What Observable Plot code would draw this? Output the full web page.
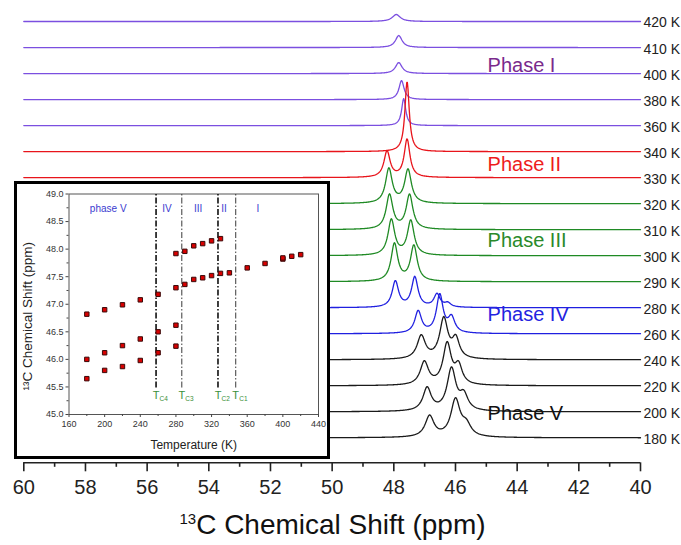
<!DOCTYPE html>
<html>
<head>
<meta charset="utf-8">
<script src="https://cdn.jsdelivr.net/npm/d3@7"></script>
<script src="https://cdn.jsdelivr.net/npm/@observablehq/plot@0.6"></script>
<style>
  body { margin: 0; background: #fff; font-family: "Liberation Sans", Arial, sans-serif; }
  #wrap { position: relative; width: 681px; height: 545px; overflow: hidden; background: #fff; }
  #main { position: absolute; left: 0; top: 0; }
  #inset { position: absolute; left: 14px; top: 181px; width: 310px; height: 272px; border: 3px solid #000; background: #fff; }
  #title { position: absolute; left: 0; width: 665px; top: 510.5px; text-align: center; font-size: 28px; line-height: 28px; color: #111; white-space: nowrap; }
  #title .sup { font-size: 15px; vertical-align: 10px; line-height: 0; }
</style>
</head>
<body>
<div id="wrap">
  <div id="main"></div>
  <div id="inset"></div>
  <div id="title"><span class="sup">13</span>C Chemical Shift (ppm)</div>
</div>
<script>
// ---------- Main spectra data ----------
const temps = [420, 410, 400, 380, 360, 340, 330, 320, 310, 300, 290, 280, 260, 240, 220, 200, 180];
const tempPhase = ["I", "I", "I", "I", "I", "II", "II", "III", "III", "III", "III", "IV", "IV", "V", "V", "V", "V"];
// peak centres (ppm), peak heights (arb.), half widths (ppm)
const peakCenters = [
  [47.92], [47.84], [47.84], [47.75], [47.68], [47.57],
  [48.22, 47.57],
  [48.16, 47.54], [48.14, 47.49], [48.08, 47.45], [47.98, 47.35],
  [47.95, 47.32, 46.60, 46.25],
  [47.21, 46.51, 46.13],
  [47.11, 46.38, 45.99], [47.01, 46.27, 45.90], [46.92, 46.13, 45.73], [46.84, 46.00, 45.65]
];
const peakHeights = [
  [7], [12], [11], [19], [27], [70],
  [26, 38],
  [34.5, 33.5], [34.5, 34.5], [35.5, 34.5], [37.5, 35.5],
  [26, 30, 13, 4],
  [22, 38, 15],
  [23, 40, 19], [23, 41, 18], [23, 42, 15], [21, 37, 11]
];
const peakWidths = [
  [0.16], [0.13], [0.13], [0.10], [0.08], [0.085],
  [0.12, 0.11],
  [0.13, 0.13], [0.13, 0.13], [0.13, 0.13], [0.13, 0.13],
  [0.125, 0.125, 0.12, 0.12],
  [0.13, 0.13, 0.13],
  [0.16, 0.16, 0.14], [0.16, 0.16, 0.14], [0.16, 0.17, 0.16], [0.17, 0.18, 0.18]
];
const phaseNames = ["Phase I", "Phase II", "Phase III", "Phase IV", "Phase V"];
const phaseKeys = ["I", "II", "III", "IV", "V"];
const shiftTicks = [60, 58, 56, 54, 52, 50, 48, 46, 44, 42, 40];
const shiftMinorTicks = [59, 57, 55, 53, 51, 49, 47, 45, 43, 41];

// ---------- Inset data ----------
const insetTemp = [180, 180, 180, 200, 200, 200, 220, 220, 220, 240, 240, 240, 260, 260, 260,
  280, 280, 280, 280, 290, 290, 300, 300, 310, 310, 320, 320, 330, 330, 340, 360, 380, 400, 400, 410, 420];
const insetShift = [46.82, 46.00, 45.65, 46.90, 46.12, 45.80, 46.99, 46.25, 45.87, 47.08, 46.37, 45.98,
  47.18, 46.50, 46.12, 47.92, 47.30, 46.62, 46.24, 47.96, 47.36, 48.06, 47.45, 48.10, 47.48,
  48.15, 47.52, 48.19, 47.56, 47.57, 47.66, 47.74, 47.82, 47.84, 47.87, 47.90];
const tcTemps = [257.7, 286.6, 327.2, 347.1];
const tcNames = ["C4", "C3", "C2", "C1"];
const insetPhaseNames = ["phase V", "IV", "III", "II", "I"];
const insetPhaseTemps = [204, 270, 305, 334, 372];
const tempTicks = [160, 200, 240, 280, 320, 360, 400, 440];
const tempMinorTicks = [180, 220, 260, 300, 340, 380, 420];
const shiftInsetTicks = [45.0, 45.5, 46.0, 46.5, 47.0, 47.5, 48.0, 48.5, 49.0];
const shiftInsetMinor = [45.25, 45.75, 46.25, 46.75, 47.25, 47.75, 48.25, 48.75];

// ---------- styles ----------
const FONT = "'Liberation Sans', Arial, sans-serif";
const traceColor = {I: "#7b4fe0", II: "#e8141b", III: "#1f8a24", IV: "#2020e0", V: "#1a1a1a"};
const labelColor = {I: "#7a2a8c", II: "#ee1c1c", III: "#2a8a2a", IV: "#2323e0", V: "#111111"};
const SPACING = 26;
const n = temps.length;
const offsetOf = i => (n - 1 - i) * SPACING;
const phaseLabelY = [371.5, 273, 197, 123, 24];

// build spectra
const grid = d3.range(0, 1001).map(i => 60 - i * 0.02);
const rows = [];
temps.forEach((t, i) => {
  const off = offsetOf(i);
  grid.forEach(x => {
    let v = 0;
    peakCenters[i].forEach((c, j) => {
      const u = (x - c) / peakWidths[i][j];
      v += peakHeights[i][j] / (1 + u * u);
    });
    rows.push({T: t, x, y: off + v, color: traceColor[tempPhase[i]]});
  });
});

const main = Plot.plot({
  width: 681, height: 500,
  marginLeft: 23.3, marginRight: 41, marginTop: 0, marginBottom: 37.7,
  x: {domain: [60, 40]},
  y: {domain: [-25, 437], axis: null},
  color: {type: "identity"},
  style: {fontFamily: FONT, background: "transparent", overflow: "visible"},
  marks: [
    Plot.line(rows, {x: "x", y: "y", z: "T", stroke: "color", strokeWidth: 1.3}),
    Plot.text(temps, {x: () => 40, y: (d, i) => offsetOf(i), text: d => d + " K",
      textAnchor: "start", dx: 3, dy: 1.5, fontSize: 14, fill: "#222"}),
    Plot.text(phaseNames, {x: () => 44.96, y: (d, i) => phaseLabelY[i], text: d => d,
      textAnchor: "start", fontSize: 20, fill: (d, i) => labelColor[phaseKeys[i]]}),
    Plot.ruleY([-25], {stroke: "#222", strokeWidth: 1.6}),
    Plot.axisX(shiftTicks, {tickSize: 9, tickPadding: 8, fontSize: 20, strokeWidth: 1.6,
      stroke: "#222", fill: "#222", label: null}),
    Plot.axisX(shiftMinorTicks, {tickSize: 4.5, strokeWidth: 1.6, stroke: "#222",
      tickFormat: () => "", label: null})
  ]
});
document.getElementById("main").appendChild(main);

const insetRows = insetTemp.map((t, i) => ({t, s: insetShift[i]}));
const inset = Plot.plot({
  width: 310, height: 272,
  marginLeft: 51.5, marginRight: 9, marginTop: 9.5, marginBottom: 42,
  x: {domain: [160, 440]},
  y: {domain: [45, 49]},
  style: {fontFamily: FONT, background: "transparent", color: "#333"},
  marks: [
    Plot.frame({stroke: "#555", strokeWidth: 1}),
    Plot.axisY(shiftInsetTicks, {tickSize: 3, tickPadding: 2.5, fontSize: 9,
      tickFormat: d3.format(".1f"), label: null, stroke: "#444", fill: "#333"}),
    Plot.axisY(shiftInsetMinor, {tickSize: 2, tickFormat: () => "", label: null, stroke: "#444"}),
    Plot.axisX(tempTicks, {tickSize: 3, tickPadding: 3.5, fontSize: 9, label: null, stroke: "#444", fill: "#333"}),
    Plot.axisX(tempMinorTicks, {tickSize: 2, tickFormat: () => "", label: null, stroke: "#444"}),
    Plot.ruleX([tcTemps[0], tcTemps[2]], {y1: 45.48, y2: 49, stroke: "#111", strokeWidth: 1.6, strokeDasharray: "6,2,1.5,2"}),
    Plot.ruleX([tcTemps[1], tcTemps[3]], {y1: 45.48, y2: 49, stroke: "#222", strokeWidth: 0.9, strokeDasharray: "6,2,1.5,2"}),
    Plot.text(tcTemps, {x: d => d, y: () => 45.345, text: () => "T", fontSize: 11, fill: "#3a8f3a"}),
    Plot.text(tcTemps, {x: d => d, y: () => 45.345, text: (d, i) => tcNames[i], fontSize: 6.5,
      textAnchor: "start", dx: 3.5, dy: 3.5, fill: "#3a8f3a"}),
    Plot.text(insetPhaseNames, {x: (d, i) => insetPhaseTemps[i], y: () => 48.74, text: d => d,
      fontSize: 10, fill: "#3b3bd0"}),
    Plot.dot(insetRows, {x: "t", y: "s", symbol: "square", r: 2.5, fill: "#d80000",
      stroke: "#3a0a0a", strokeWidth: 1}),
    Plot.text(["Temperature (K)"], {frameAnchor: "bottom", dy: 34, text: d => d, fontSize: 12, fill: "#222"}),
    Plot.text(["\u00B9\u00B3C Chemical Shift (ppm)"], {frameAnchor: "left", textAnchor: "middle", lineAnchor: "middle",
      rotate: -90, dx: -41, dy: 12, text: d => d, fontSize: 13.5, fill: "#222"})
  ]
});
document.getElementById("inset").appendChild(inset);
</script>
</body>
</html>
